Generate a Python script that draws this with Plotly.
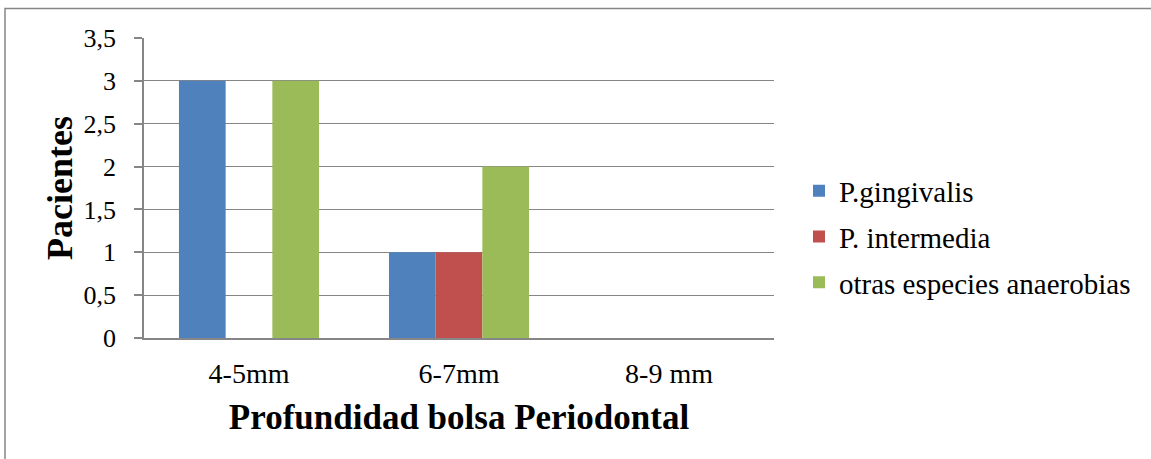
import plotly.graph_objects as go

# Patients by periodontal pocket depth and bacterial species
categorias = ["4-5mm", "6-7mm", "8-9 mm"]
p_gingivalis = [3, 1, 0]
p_intermedia = [0, 1, 0]
otras_especies = [3, 2, 0]
ticks_y = [0, 0.5, 1, 1.5, 2, 2.5, 3, 3.5]

W, H = 1151, 459
L, R, T, B = 144, 1151 - 774, 38, 459 - 338
pw, ph = W - L - R, H - T - B

serif = "Liberation Serif"
grey = "#868686"

series = [
    ("P.gingivalis", p_gingivalis, "#4F81BD"),
    ("P. intermedia", p_intermedia, "#C0504D"),
    ("otras especies anaerobias", otras_especies, "#9BBB59"),
]

fig = go.Figure()
for i, (name, vals, color) in enumerate(series):
    fig.add_trace(go.Bar(
        x=categorias, y=vals, name=name,
        marker=dict(color=color, line=dict(width=0)),
        legendgroup=f"g{i}",
    ))

def px_x(v):
    return (v - L) / pw

def px_y(v):
    return (H - B - v) / ph

fig.update_layout(
    width=W, height=H,
    margin=dict(l=L, r=R, t=T, b=B),
    paper_bgcolor="white", plot_bgcolor="white",
    separators=",.",
    barmode="group", bargap=0.333, bargroupgap=0,
    font=dict(family=serif, color="#000000"),
    showlegend=True,
    legend=dict(
        x=px_x(799), xanchor="left",
        y=px_y(237), yanchor="middle",
        font=dict(family=serif, size=29, color="#000000"),
        tracegroupgap=5, itemwidth=30,
        bgcolor="rgba(0,0,0,0)",
    ),
    xaxis=dict(
        showline=True, linecolor=grey, linewidth=1.5,
        ticks="", showgrid=False,
        tickfont=dict(family=serif, size=28),
        ticklabelstandoff=10,
        title=dict(text="<b>Profundidad bolsa Periodontal</b>",
                   font=dict(family=serif, size=35), standoff=16),
    ),
    yaxis=dict(
        range=[0, 3.5], tickvals=ticks_y,
        showline=True, linecolor=grey, linewidth=1.5,
        ticks="outside", ticklen=8, tickcolor=grey, tickwidth=1.5,
        showgrid=True, gridcolor=grey, gridwidth=1.2,
        zeroline=False,
        tickfont=dict(family=serif, size=26),
        ticklabelstandoff=13,
        title=dict(text="<b>Pacientes</b>",
                   font=dict(family=serif, size=36), standoff=0),
    ),
    shapes=[dict(
        type="rect", xref="paper", yref="paper",
        x0=px_x(5), x1=px_x(1170), y0=px_y(480), y1=px_y(8.5),
        line=dict(color=grey, width=1.5), fillcolor="rgba(0,0,0,0)",
        layer="below",
    )],
)

fig.write_html("out.html")
